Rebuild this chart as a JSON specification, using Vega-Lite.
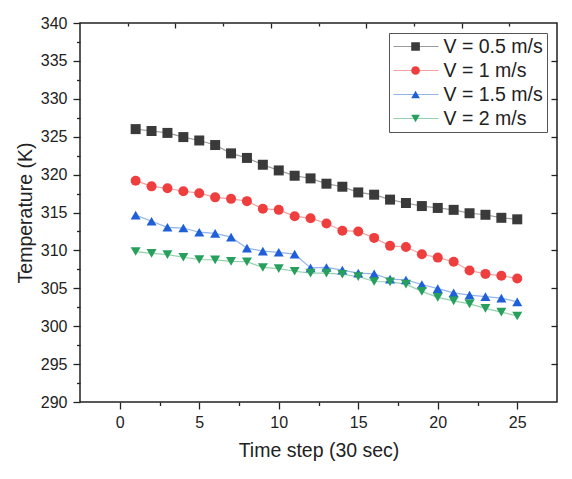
{
  "$schema": "https://vega.github.io/schema/vega-lite/v6.json",
  "width": 477,
  "height": 379,
  "autosize": {"type": "none"},
  "padding": {"left": 80, "top": 23, "right": 15, "bottom": 77},
  "background": "white",
  "config": {
    "font": "Liberation Sans",
    "view": {"stroke": "#222", "strokeWidth": 1.5},
    "axis": {"grid": false, "domain": false, "tickColor": "#222", "tickWidth": 1.3, "labelColor": "#222", "titleColor": "#222", "labelFont": "Liberation Sans", "titleFont": "Liberation Sans", "titleFontWeight": "normal"},
    "legend": {"labelFont": "Liberation Sans", "labelColor": "#222"}
  },
  "data": {"values": [
    {"t":1,"T":326.0,"s":"V = 0.5 m/s"},{"t":2,"T":325.75,"s":"V = 0.5 m/s"},{"t":3,"T":325.5,"s":"V = 0.5 m/s"},{"t":4,"T":324.95,"s":"V = 0.5 m/s"},{"t":5,"T":324.5,"s":"V = 0.5 m/s"},
    {"t":6,"T":323.9,"s":"V = 0.5 m/s"},{"t":7,"T":322.8,"s":"V = 0.5 m/s"},{"t":8,"T":322.2,"s":"V = 0.5 m/s"},{"t":9,"T":321.3,"s":"V = 0.5 m/s"},{"t":10,"T":320.55,"s":"V = 0.5 m/s"},
    {"t":11,"T":319.85,"s":"V = 0.5 m/s"},{"t":12,"T":319.5,"s":"V = 0.5 m/s"},{"t":13,"T":318.8,"s":"V = 0.5 m/s"},{"t":14,"T":318.4,"s":"V = 0.5 m/s"},{"t":15,"T":317.65,"s":"V = 0.5 m/s"},
    {"t":16,"T":317.35,"s":"V = 0.5 m/s"},{"t":17,"T":316.7,"s":"V = 0.5 m/s"},{"t":18,"T":316.25,"s":"V = 0.5 m/s"},{"t":19,"T":315.85,"s":"V = 0.5 m/s"},{"t":20,"T":315.6,"s":"V = 0.5 m/s"},
    {"t":21,"T":315.35,"s":"V = 0.5 m/s"},{"t":22,"T":314.9,"s":"V = 0.5 m/s"},{"t":23,"T":314.7,"s":"V = 0.5 m/s"},{"t":24,"T":314.3,"s":"V = 0.5 m/s"},{"t":25,"T":314.1,"s":"V = 0.5 m/s"},
    {"t":1,"T":319.2,"s":"V = 1 m/s"},{"t":2,"T":318.45,"s":"V = 1 m/s"},{"t":3,"T":318.2,"s":"V = 1 m/s"},{"t":4,"T":317.8,"s":"V = 1 m/s"},{"t":5,"T":317.55,"s":"V = 1 m/s"},
    {"t":6,"T":317.0,"s":"V = 1 m/s"},{"t":7,"T":316.8,"s":"V = 1 m/s"},{"t":8,"T":316.5,"s":"V = 1 m/s"},{"t":9,"T":315.5,"s":"V = 1 m/s"},{"t":10,"T":315.35,"s":"V = 1 m/s"},
    {"t":11,"T":314.5,"s":"V = 1 m/s"},{"t":12,"T":314.25,"s":"V = 1 m/s"},{"t":13,"T":313.55,"s":"V = 1 m/s"},{"t":14,"T":312.6,"s":"V = 1 m/s"},{"t":15,"T":312.5,"s":"V = 1 m/s"},
    {"t":16,"T":311.65,"s":"V = 1 m/s"},{"t":17,"T":310.6,"s":"V = 1 m/s"},{"t":18,"T":310.45,"s":"V = 1 m/s"},{"t":19,"T":309.5,"s":"V = 1 m/s"},{"t":20,"T":309.05,"s":"V = 1 m/s"},
    {"t":21,"T":308.5,"s":"V = 1 m/s"},{"t":22,"T":307.35,"s":"V = 1 m/s"},{"t":23,"T":306.9,"s":"V = 1 m/s"},{"t":24,"T":306.65,"s":"V = 1 m/s"},{"t":25,"T":306.3,"s":"V = 1 m/s"},
    {"t":1,"T":314.65,"s":"V = 1.5 m/s"},{"t":2,"T":313.85,"s":"V = 1.5 m/s"},{"t":3,"T":313.05,"s":"V = 1.5 m/s"},{"t":4,"T":312.95,"s":"V = 1.5 m/s"},{"t":5,"T":312.4,"s":"V = 1.5 m/s"},
    {"t":6,"T":312.25,"s":"V = 1.5 m/s"},{"t":7,"T":311.75,"s":"V = 1.5 m/s"},{"t":8,"T":310.3,"s":"V = 1.5 m/s"},{"t":9,"T":309.9,"s":"V = 1.5 m/s"},{"t":10,"T":309.75,"s":"V = 1.5 m/s"},
    {"t":11,"T":309.5,"s":"V = 1.5 m/s"},{"t":12,"T":307.7,"s":"V = 1.5 m/s"},{"t":13,"T":307.75,"s":"V = 1.5 m/s"},{"t":14,"T":307.4,"s":"V = 1.5 m/s"},{"t":15,"T":307.0,"s":"V = 1.5 m/s"},
    {"t":16,"T":306.9,"s":"V = 1.5 m/s"},{"t":17,"T":306.2,"s":"V = 1.5 m/s"},{"t":18,"T":306.1,"s":"V = 1.5 m/s"},{"t":19,"T":305.5,"s":"V = 1.5 m/s"},{"t":20,"T":304.95,"s":"V = 1.5 m/s"},
    {"t":21,"T":304.4,"s":"V = 1.5 m/s"},{"t":22,"T":304.1,"s":"V = 1.5 m/s"},{"t":23,"T":303.9,"s":"V = 1.5 m/s"},{"t":24,"T":303.7,"s":"V = 1.5 m/s"},{"t":25,"T":303.2,"s":"V = 1.5 m/s"},
    {"t":1,"T":309.85,"s":"V = 2 m/s"},{"t":2,"T":309.6,"s":"V = 2 m/s"},{"t":3,"T":309.45,"s":"V = 2 m/s"},{"t":4,"T":309.1,"s":"V = 2 m/s"},{"t":5,"T":308.8,"s":"V = 2 m/s"},
    {"t":6,"T":308.75,"s":"V = 2 m/s"},{"t":7,"T":308.55,"s":"V = 2 m/s"},{"t":8,"T":308.5,"s":"V = 2 m/s"},{"t":9,"T":307.75,"s":"V = 2 m/s"},{"t":10,"T":307.6,"s":"V = 2 m/s"},
    {"t":11,"T":307.25,"s":"V = 2 m/s"},{"t":12,"T":307.0,"s":"V = 2 m/s"},{"t":13,"T":307.0,"s":"V = 2 m/s"},{"t":14,"T":306.85,"s":"V = 2 m/s"},{"t":15,"T":306.55,"s":"V = 2 m/s"},
    {"t":16,"T":305.9,"s":"V = 2 m/s"},{"t":17,"T":305.85,"s":"V = 2 m/s"},{"t":18,"T":305.55,"s":"V = 2 m/s"},{"t":19,"T":304.6,"s":"V = 2 m/s"},{"t":20,"T":303.8,"s":"V = 2 m/s"},
    {"t":21,"T":303.35,"s":"V = 2 m/s"},{"t":22,"T":302.95,"s":"V = 2 m/s"},{"t":23,"T":302.35,"s":"V = 2 m/s"},{"t":24,"T":301.85,"s":"V = 2 m/s"},{"t":25,"T":301.35,"s":"V = 2 m/s"}
  ]},
  "resolve": {"axis": {"x": "independent", "y": "independent"}},
  "layer": [
    {
      "mark": {"type": "line", "strokeWidth": 1.2},
      "encoding": {
        "x": {"field": "t", "type": "quantitative", "scale": {"domain": [-2.5, 27.5], "nice": false, "zero": false},
          "axis": {"orient": "bottom", "values": [0, 5, 10, 15, 20, 25], "tickSize": 7, "labelFontSize": 16, "labelPadding": 5, "title": "Time step (30 sec)", "titleFontSize": 19.5, "titlePadding": 11}},
        "y": {"field": "T", "type": "quantitative", "scale": {"domain": [290, 340], "nice": false, "zero": false},
          "axis": {"orient": "left", "values": [290, 295, 300, 305, 310, 315, 320, 325, 330, 335, 340], "tickSize": 7, "labelFontSize": 16, "labelPadding": 6, "title": "Temperature (K)", "titleFontSize": 19.5, "titlePadding": 5}},
        "stroke": {"field": "s", "type": "nominal",
          "scale": {"domain": ["V = 0.5 m/s", "V = 1 m/s", "V = 1.5 m/s", "V = 2 m/s"], "range": ["#9c9c9c", "#f3a0a0", "#94b4ec", "#94d2ad"]},
          "legend": {"orient": "top-right", "offset": 10, "title": null, "padding": 3.5, "strokeColor": "#555", "symbolType": "M-1,0H1", "symbolSize": 2025, "symbolStrokeWidth": 1.2, "labelFontSize": 19.5, "labelOffset": 4, "rowPadding": 4, "clipHeight": 20}},
        "detail": {"field": "s"}
      }
    },
    {
      "mark": {"type": "point", "filled": true, "opacity": 1, "strokeWidth": 0},
      "encoding": {
        "x": {"field": "t", "type": "quantitative",
          "axis": {"orient": "bottom", "values": [2.5, 7.5, 12.5, 17.5, 22.5], "tickSize": 3.5, "labels": false, "title": null}},
        "y": {"field": "T", "type": "quantitative",
          "axis": {"orient": "left", "values": [292.5, 297.5, 302.5, 307.5, 312.5, 317.5, 322.5, 327.5, 332.5, 337.5], "tickSize": 3.5, "labels": false, "title": null}},
        "fill": {"field": "s", "type": "nominal",
          "scale": {"range": ["#3a3a3a", "#ef3e3e", "#1f60d8", "#27a05e"]},
          "legend": {"orient": "none", "legendX": 322.3, "legendY": 10, "title": null, "padding": 3.5, "symbolSize": 75, "symbolStrokeWidth": 0, "labelFontSize": 19.5, "labelOffset": 0, "rowPadding": 4, "clipHeight": 20, "labelExpr": "''"}},
        "shape": {"field": "s", "type": "nominal",
          "scale": {"range": ["square", "circle", "triangle-up", "triangle-down"]}},
        "size": {"field": "s", "type": "nominal", "scale": {"domain": ["V = 2 m/s", "V = 1.5 m/s", "V = 1 m/s", "V = 0.5 m/s"], "range": [100, 100, 85, 64]}, "legend": null}
      }
    },
    {
      "mark": {"type": "point", "opacity": 0},
      "encoding": {
        "x": {"field": "t", "type": "quantitative",
          "axis": {"orient": "top", "values": [3.5, 9.5, 15.5, 21.5], "tickSize": -5, "labels": false, "title": null}},
        "y": {"field": "T", "type": "quantitative",
          "axis": {"orient": "right", "values": [295, 300, 305, 310, 315, 320, 325, 330, 335], "tickSize": -6, "labels": false, "title": null}}
      }
    },
    {
      "mark": {"type": "point", "opacity": 0},
      "encoding": {
        "x": {"field": "t", "type": "quantitative",
          "axis": {"orient": "top", "values": [0.5, 6.5, 12.5, 18.5, 24.5], "tickSize": -3, "labels": false, "title": null}},
        "y": {"field": "T", "type": "quantitative", "axis": null}
      }
    }
  ]
}
